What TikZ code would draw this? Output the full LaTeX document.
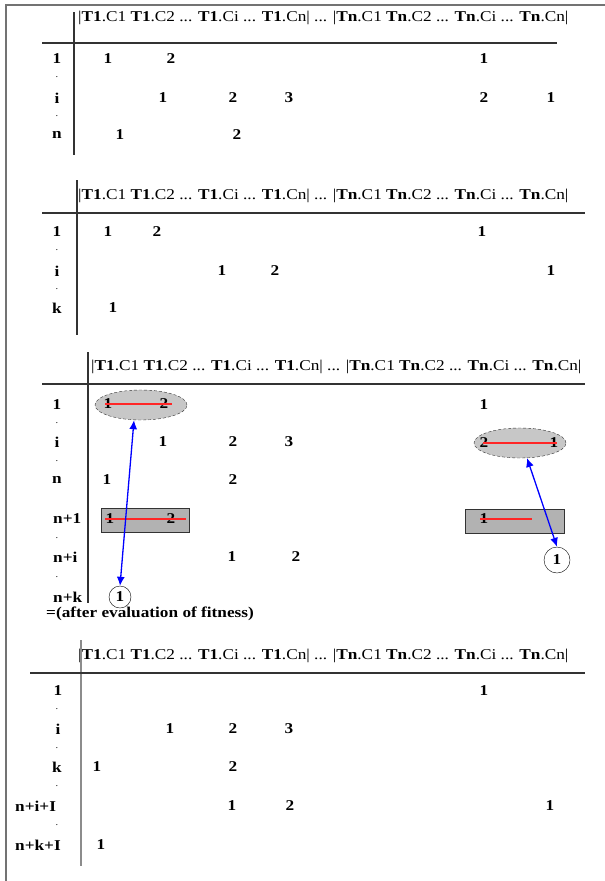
\documentclass[tikz,border=0pt]{standalone}
\usepackage{fontspec}
\setmainfont[FakeStretch=1.15]{Liberation Serif}
\usetikzlibrary{arrows.meta,shapes.geometric}
\newcommand{\hdrtext}{|\textbf{T1}.C1 \textbf{T1}.C2 ... \textbf{T1}.Ci ... \textbf{T1}.Cn| ... |\textbf{Tn}.C1 \textbf{Tn}.C2 ... \textbf{Tn}.Ci ... \textbf{Tn}.Cn|}
\begin{document}
\begin{tikzpicture}[x=1pt,y=-1pt,
  txt/.style={inner sep=0pt, font=\fontsize{15}{17}\selectfont\bfseries},
  hdr/.style={inner sep=0pt, anchor=west, font=\fontsize{15}{17}\selectfont},
  dotl/.style={inner sep=0pt, font=\fontsize{9}{10}\selectfont},
  rulel/.style={line width=1.2pt, draw=black!80},
  frame/.style={line width=1.5pt, draw=black!55},
  oval/.style={ellipse, draw=black!80, densely dashed, fill=black!22, inner sep=0pt, minimum width=92pt, minimum height=30pt},
  box/.style={rectangle, draw=black!80, fill=black!30, inner sep=0pt},
  ring/.style={circle, draw=black, inner sep=0pt, minimum size=22pt, font=\fontsize{15}{17}\selectfont\bfseries},
  strike/.style={draw=red!85, line width=1.3pt},
  link/.style={draw=blue, line width=1.3pt, {Latex[length=9pt,width=8pt]}-{Latex[length=9pt,width=8pt]}}
]
\useasboundingbox (0,0) rectangle (605,881);
\fill[white] (0,0) rectangle (605,881);
% outer frame
\draw[frame] (6,881) -- (6,5) -- (605,5);

% ---------------- Table 1 ----------------
\node[hdr] (h1) at (78,18) {\hdrtext};
\draw[rulel] (74,12) -- (74,155);
\draw[rulel] (42,43) -- (557,43);
\node[txt] (a1r1) at (57,59) {1};
\node[dotl] (a1d1) at (57,77) {.};
\node[txt] (a1r2) at (57,98) {i};
\node[dotl] (a1d2) at (57,116) {.};
\node[txt] (a1r3) at (57,135) {n};
\node[txt] (a1v1) at (108,59) {1};
\node[txt] (a1v2) at (171,59) {2};
\node[txt] (a1v3) at (484,59) {1};
\node[txt] (a1v4) at (163,98) {1};
\node[txt] (a1v5) at (233,98) {2};
\node[txt] (a1v6) at (289,98) {3};
\node[txt] (a1v7) at (484,98) {2};
\node[txt] (a1v8) at (551,98) {1};
\node[txt] (a1v9) at (120,135) {1};
\node[txt] (a1v10) at (237,135) {2};

% ---------------- Table 2 ----------------
\node[hdr] (h2) at (78,196) {\hdrtext};
\draw[rulel] (77,180) -- (77,335);
\draw[rulel] (42,213) -- (585,213);
\node[txt] (a2r1) at (57,232) {1};
\node[dotl] (a2d1) at (57,250) {.};
\node[txt] (a2r2) at (57,271) {i};
\node[dotl] (a2d2) at (57,289) {.};
\node[txt] (a2r3) at (57,308) {k};
\node[txt] (a2v1) at (108,232) {1};
\node[txt] (a2v2) at (157,232) {2};
\node[txt] (a2v3) at (482,232) {1};
\node[txt] (a2v4) at (222,271) {1};
\node[txt] (a2v5) at (275,271) {2};
\node[txt] (a2v6) at (551,271) {1};
\node[txt] (a2v7) at (113,308) {1};

% ---------------- Table 3 ----------------
\node[hdr] (h3) at (91,367) {\hdrtext};
\draw[rulel] (88,352) -- (88,603);
\draw[rulel] (42,384) -- (585,384);
\node[oval] (e1) at (141,405) {};
\node[oval] (e2) at (520,443) {};
\node[box, minimum width=88pt, minimum height=24pt] (b1) at (145,520) {};
\node[box, minimum width=99pt, minimum height=24pt] (b2) at (515,521) {};
\node[txt] (a3r1) at (57,405) {1};
\node[dotl] (a3d1) at (57,423) {.};
\node[txt] (a3r2) at (57,442) {i};
\node[dotl] (a3d2) at (57,461) {.};
\node[txt] (a3r3) at (57,480) {n};
\node[txt, anchor=west] (a3r4) at (53,519) {n+1};
\node[dotl] (a3d4) at (57,538) {.};
\node[txt, anchor=west] (a3r5) at (53,557) {n+i};
\node[dotl] (a3d5) at (57,577) {.};
\node[txt, anchor=west] (a3r6) at (53,597) {n+k};
\node[txt, anchor=west] (note) at (46,614) {=(after evaluation of fitness)};
\node[txt] (a3v1) at (108,404) {1};
\node[txt] (a3v2) at (164,404) {2};
\node[txt] (a3v3) at (484,405) {1};
\node[txt] (a3v4) at (163,442) {1};
\node[txt] (a3v5) at (233,442) {2};
\node[txt] (a3v6) at (289,442) {3};
\node[txt] (a3v7) at (484,443) {2};
\node[txt] (a3v8) at (554,443) {1};
\node[txt] (a3v9) at (107,480) {1};
\node[txt] (a3v10) at (233,480) {2};
\node[txt] (a3v11) at (110,519) {1};
\node[txt] (a3v12) at (171,519) {2};
\node[txt] (a3v13) at (484,519) {1};
\node[txt] (a3v14) at (232,557) {1};
\node[txt] (a3v15) at (296,557) {2};
\node[ring] (c1) at (120,597) {1};
\node[ring, minimum size=26pt] (c2) at (557,560) {1};
\draw[strike] (105,404) -- (172,404);
\draw[strike] (483,443) -- (557,443);
\draw[strike] (105,519) -- (186,519);
\draw[strike] (480,519) -- (532,519);
\draw[link] (e1.south -| 134,0) -- (c1.north);
\draw[link] (527,458) -- (c2.north);

% ---------------- Table 4 ----------------
\node[hdr] (h4) at (78,656) {\hdrtext};
\draw[line width=2.5pt, draw=black!45] (81,640) -- (81,866);
\draw[rulel] (30,673) -- (585,673);
\node[txt] (a4r1) at (58,691) {1};
\node[dotl] (a4d1) at (57,709) {.};
\node[txt] (a4r2) at (58,729) {i};
\node[dotl] (a4d2) at (57,748) {.};
\node[txt] (a4r3) at (57,767) {k};
\node[dotl] (a4d3) at (57,786) {.};
\node[txt, anchor=west] (a4r4) at (15,806) {n+i+I};
\node[dotl] (a4d4) at (57,825) {.};
\node[txt, anchor=west] (a4r5) at (15,845) {n+k+I};
\node[txt] (a4v1) at (484,691) {1};
\node[txt] (a4v2) at (170,729) {1};
\node[txt] (a4v3) at (233,729) {2};
\node[txt] (a4v4) at (289,729) {3};
\node[txt] (a4v5) at (97,767) {1};
\node[txt] (a4v6) at (233,767) {2};
\node[txt] (a4v7) at (232,806) {1};
\node[txt] (a4v8) at (290,806) {2};
\node[txt] (a4v9) at (550,806) {1};
\node[txt] (a4v10) at (101,845) {1};
\end{tikzpicture}
\end{document}
